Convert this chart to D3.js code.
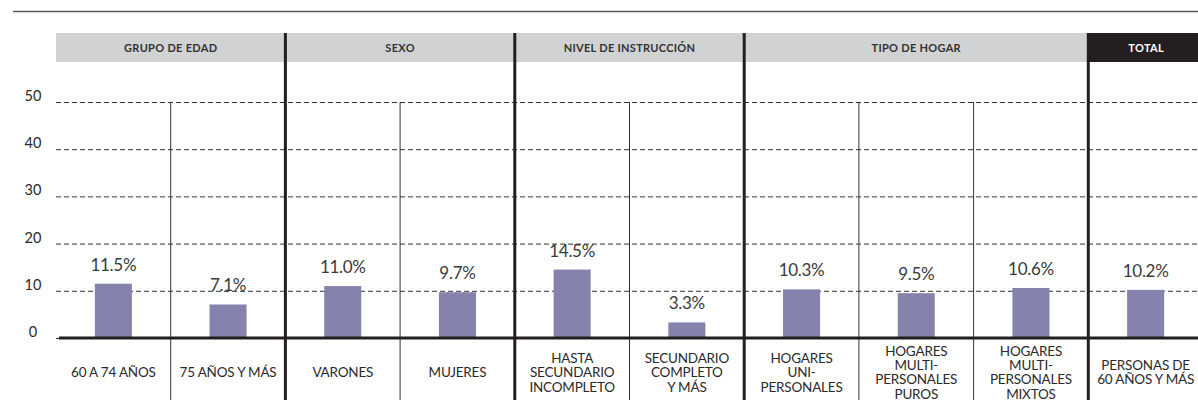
<!DOCTYPE html>
<html>
<head>
<meta charset="utf-8">
<script src="https://cdn.jsdelivr.net/npm/d3@7"></script>
<style>
  html, body { margin: 0; padding: 0; background: #fff; }
  svg { display: block; }
</style>
</head>
<body>
<div id="chart"></div>
<script>
const categories = [
  "60 A 74 AÑOS",
  "75 AÑOS Y MÁS",
  "VARONES",
  "MUJERES",
  "HASTA\nSECUNDARIO\nINCOMPLETO",
  "SECUNDARIO\nCOMPLETO\nY MÁS",
  "HOGARES\nUNI-\nPERSONALES",
  "HOGARES\nMULTI-\nPERSONALES\nPUROS",
  "HOGARES\nMULTI-\nPERSONALES\nMIXTOS",
  "PERSONAS DE\n60 AÑOS Y MÁS"
];
const values = [11.5, 7.1, 11.0, 9.7, 14.5, 3.3, 10.3, 9.5, 10.6, 10.2];
const valueLabels = ["11.5%", "7.1%", "11.0%", "9.7%", "14.5%", "3.3%", "10.3%", "9.5%", "10.6%", "10.2%"];
const groupNames = ["GRUPO DE EDAD", "SEXO", "NIVEL DE INSTRUCCIÓN", "TIPO DE HOGAR", "TOTAL"];
const groupSizes = [2, 2, 2, 3, 1];
const yTicks = [0, 10, 20, 30, 40, 50];

const W = 1198, H = 400;
const svg = d3.select("#chart").append("svg").attr("width", W).attr("height", H);

const x = d3.scaleBand().domain(categories).range([56, 1203]).padding(0);
const y = d3.scaleLinear().domain([0, 50]).range([338, 102]);
const barW = x.bandwidth() * 0.323;
const font = "Lato, 'Open Sans', sans-serif";

// top rule
svg.append("line").attr("x1", 13).attr("x2", W).attr("y1", 11.5).attr("y2", 11.5)
  .attr("stroke", "#5a5a5a").attr("stroke-width", 1.5);

// group spans
let idx = 0;
const groups = groupNames.map((name, i) => {
  const start = idx; idx += groupSizes[i];
  const x0 = x(categories[start]);
  const x1 = x(categories[idx - 1]) + x.bandwidth();
  return { name, start, end: idx, x0, x1, total: name === "TOTAL" };
});

// header band
const hdr = svg.append("g");
hdr.selectAll("rect").data(groups).join("rect")
  .attr("x", d => d.x0).attr("y", 33).attr("width", d => Math.min(d.x1, W) - d.x0).attr("height", 29)
  .attr("fill", d => d.total ? "#231f20" : "#d1d2d4");
hdr.selectAll("text").data(groups).join("text")
  .attr("x", d => d.total ? (d.x0 + W) / 2 + 3 : (d.x0 + d.x1) / 2)
  .attr("y", 48).attr("dy", "0.35em")
  .attr("text-anchor", "middle")
  .attr("font-family", font).attr("font-weight", "bold").attr("font-size", 11)
  .attr("letter-spacing", 0.3)
  .attr("fill", d => d.total ? "#fff" : "#333")
  .text(d => d.name);

// gridlines + y labels
const yAxis = d3.axisLeft(y).tickValues(yTicks).tickSize(-(W - 56)).tickFormat(d3.format("d"));
const ga = svg.append("g").attr("transform", "translate(56,0)").call(yAxis);
ga.select(".domain").remove();
ga.selectAll(".tick line").attr("stroke", "#333").attr("stroke-dasharray", "5,3").attr("stroke-width", 1);
ga.selectAll(".tick text")
  .attr("x", -23).attr("dy", "-0.1em").attr("text-anchor", "middle")
  .attr("font-family", font).attr("font-size", 14.5).attr("fill", "#2a2a2a");

// bars
svg.append("g").selectAll("rect").data(values).join("rect")
  .attr("x", (d, i) => x(categories[i]) + (x.bandwidth() - barW) / 2)
  .attr("y", d => y(d)).attr("width", barW).attr("height", d => y(0) - y(d))
  .attr("fill", "#8582ad");

// value labels
svg.append("g").selectAll("text").data(values).join("text")
  .attr("x", (d, i) => x(categories[i]) + x.bandwidth() / 2)
  .attr("y", d => y(d) - 13)
  .attr("text-anchor", "middle")
  .attr("font-family", font).attr("font-size", 17).attr("fill", "#3a3a3a")
  .attr("letter-spacing", -0.3)
  .text((d, i) => valueLabels[i]);

// thin separators within groups
const thin = [];
groups.forEach(g => { for (let k = g.start + 1; k < g.end; k++) thin.push(x(categories[k])); });
svg.append("g").selectAll("line").data(thin).join("line")
  .attr("x1", d => d).attr("x2", d => d).attr("y1", y(50)).attr("y2", H)
  .attr("stroke", "#333").attr("stroke-width", 1);

// baseline
svg.append("line").attr("x1", 59).attr("x2", W).attr("y1", y(0)).attr("y2", y(0))
  .attr("stroke", "#231f20").attr("stroke-width", 3);

// thick group separators
const thick = groups.slice(1).map(g => g.x0);
svg.append("g").selectAll("line").data(thick).join("line")
  .attr("x1", d => d).attr("x2", d => d).attr("y1", 33).attr("y2", H)
  .attr("stroke", "#231f20").attr("stroke-width", 3);

// category labels
const lh = 14.3;
svg.append("g").selectAll("text").data(categories).join("text")
  .attr("text-anchor", "middle")
  .attr("font-family", font).attr("font-size", 13.5).attr("fill", "#2a2a2a")
  .attr("letter-spacing", -0.2)
  .each(function (d) {
    const lines = d.split("\n");
    const cx = x(d) + x.bandwidth() / 2;
    const y0 = 372.5 - (lines.length - 1) * lh / 2;
    d3.select(this).selectAll("tspan").data(lines).join("tspan")
      .attr("x", cx).attr("y", (t, j) => y0 + j * lh).attr("dy", "0.35em").text(t => t);
  });
</script>
</body>
</html>
